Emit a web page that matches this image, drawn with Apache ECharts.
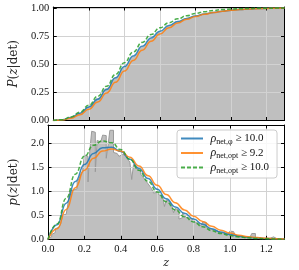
<!DOCTYPE html>
<html>
<head>
<meta charset="utf-8">
<script src="https://cdn.jsdelivr.net/npm/echarts@6/dist/echarts.min.js"></script>
<style>html,body{margin:0;padding:0;background:#fff;}#c{width:299px;height:270px;}</style>
</head>
<body>
<div id="c"></div>
<script>
// ---- data ----
const zGrid = [0,0.05,0.1,0.15,0.2,0.25,0.3,0.35,0.4,0.45,0.5,0.55,0.6,0.65,0.7,0.75,0.8,0.85,0.9,0.95,1.0,1.05,1.1,1.15,1.2,1.25,1.3];

const cdfEmpirical = [0,0.006,0.028,0.068,0.125,0.2,0.29,0.385,0.48,0.57,0.655,0.73,0.79,0.84,0.88,0.91,0.932,0.95,0.964,0.975,0.984,0.99,0.994,0.997,0.999,1.0,1.0];
const cdfPhi10 = [0,0.006,0.027,0.065,0.12,0.19,0.275,0.38,0.48,0.575,0.66,0.735,0.795,0.845,0.88,0.908,0.93,0.948,0.962,0.973,0.982,0.988,0.993,0.996,0.998,0.999,1.0];
const cdfOpt92 = [0,0.004,0.02,0.052,0.1,0.165,0.245,0.34,0.44,0.535,0.625,0.705,0.77,0.825,0.868,0.9,0.925,0.945,0.96,0.972,0.981,0.987,0.992,0.995,0.997,0.999,1.0];
const cdfOpt10 = [0,0.007,0.032,0.075,0.135,0.215,0.305,0.41,0.515,0.61,0.695,0.765,0.825,0.87,0.905,0.932,0.953,0.968,0.979,0.987,0.992,0.995,0.997,0.998,0.999,1.0,1.0];

const pdfPhi10 = [0,0.3,0.75,1.2,1.55,1.78,1.9,1.91,1.82,1.66,1.47,1.26,1.04,0.84,0.67,0.54,0.42,0.31,0.22,0.15,0.1,0.065,0.04,0.025,0.015,0.008,0.004];
const pdfOpt92 = [0,0.22,0.62,1.07,1.43,1.68,1.83,1.87,1.83,1.7,1.52,1.32,1.12,0.93,0.76,0.61,0.48,0.37,0.27,0.19,0.13,0.085,0.055,0.035,0.02,0.012,0.006];
const pdfOpt10 = [0,0.32,0.85,1.35,1.72,1.95,2.04,2.0,1.86,1.66,1.43,1.2,0.98,0.78,0.61,0.47,0.36,0.26,0.18,0.12,0.08,0.05,0.03,0.018,0.01,0.005,0.002];

const histBinWidth = 0.01;
const histDensity = [
 0.02,0.05,0.10,0.14,0.22,0.25,0.28,0.32,0.50,0.52,
 0.55,0.75,1.00,1.02,0.98,1.05,1.20,1.25,1.35,1.42,
 1.75,1.72,1.19,1.85,2.24,2.22,1.40,2.05,2.02,2.06,
 2.16,2.15,1.68,1.95,2.26,2.26,1.80,1.78,1.80,1.72,
 1.76,1.78,1.74,1.70,1.65,1.60,1.24,1.55,1.50,1.45,
 1.42,1.35,1.30,1.25,1.20,1.15,1.10,1.05,0.96,0.97,
 0.94,0.92,0.90,0.88,0.68,0.82,0.78,0.74,0.70,0.55,
 0.64,0.60,0.42,0.45,0.55,0.50,0.45,0.44,0.42,0.40,
 0.38,0.35,0.33,0.30,0.28,0.36,0.35,0.25,0.22,0.21,
 0.20,0.18,0.17,0.15,0.14,0.13,0.12,0.11,0.10,0.09,
 0.17,0.16,0.17,0.08,0.07,0.06,0.06,0.05,0.05,0.04,
 0.04,0.04,0.12,0.12,0.03,0.03,0.02,0.02,0.02,0.02,
 0.02,0.02,0.01,0.05,0.05,0.01,0.04,0.01,0.00,0.00
];

const seriesNames = ['phi10','opt92','opt10'];
const legendLabels = {
  phi10: '{r|ρ}{s|net,φ}{t| ≥ 10.0}',
  opt92: '{r|ρ}{s|net,opt}{t| ≥ 9.2}',
  opt10: '{r|ρ}{s|net,opt}{t| ≥ 10.0}'
};
const colors = {phi10:'#1f77b4', opt92:'#ff7f0e', opt10:'#2ca02c'};
const dashes = {phi10:'solid', opt92:'solid', opt10:[4,2]};

// ---- build ----
const pairs = (ys) => zGrid.map((z,i)=>[z, ys[i]]);
const histData = histDensity.map((v,i)=>[+(i*histBinWidth).toFixed(2), v]);
histData.push([+(histDensity.length*histBinWidth).toFixed(2), 0]);

const FONT = '"Liberation Serif", "DejaVu Serif", serif';
const NAMEFONT = '"DejaVu Serif", serif';
const gridLineColor = '#d2d2d2';

function xAx(gi, pos, labels){
  return {
    type:'value', gridIndex:gi, position:pos, min:0, max:1.3, interval:0.2, z:1,
    axisLine:{show:true, onZero:false, lineStyle:{color:'#000', width:1}},
    axisTick:{show:true, inside:true, length:3.5, lineStyle:{color:'#000'}},
    axisLabel:{show:labels, showMaxLabel:false, margin:4, color:'#111', fontFamily:FONT, fontSize:10.5,
      formatter:(v)=>v.toFixed(1)},
    splitLine:{show:pos==='bottom', lineStyle:{color:gridLineColor, width:1}},
    name: labels ? 'z' : '', nameLocation:'middle', nameGap:18,
    nameTextStyle:{fontFamily:NAMEFONT, fontStyle:'italic', fontSize:11, color:'#111'}
  };
}
function yAx(gi, pos, max, interval, digits, name){
  return {
    type:'value', gridIndex:gi, position:pos, min:0, max:max, interval:interval, z:1,
    axisLine:{show:true, onZero:false, lineStyle:{color:'#000', width:1}},
    axisTick:{show:true, inside:true, length:3.5, lineStyle:{color:'#000'}},
    axisLabel:{show:pos==='left', showMaxLabel:false, margin:4, color:'#111', fontFamily:FONT, fontSize:10.5,
      formatter:(v)=>v.toFixed(digits)},
    splitLine:{show:pos==='left', lineStyle:{color:gridLineColor, width:1}},
    name: pos==='left' ? name : '', nameLocation:'middle', nameGap:23, nameRotate:90,
    nameTextStyle:{fontFamily:NAMEFONT, fontSize:12, color:'#222',
      rich:{i:{fontFamily:NAMEFONT, fontStyle:'italic', fontSize:12, color:'#222'},
            n:{fontFamily:NAMEFONT, fontSize:12, color:'#222'}}}
  };
}

const series = [];
series.push({
  type:'line', xAxisIndex:0, yAxisIndex:0, data:pairs(cdfEmpirical), smooth:true, smoothMonotone:'x',
  symbol:'none', lineStyle:{width:0}, areaStyle:{color:'#bfbfbf', opacity:1}, z:0, silent:true
});
const cdfs = {phi10:cdfPhi10, opt92:cdfOpt92, opt10:cdfOpt10};
const pdfs = {phi10:pdfPhi10, opt92:pdfOpt92, opt10:pdfOpt10};
series.push({
  type:'line', xAxisIndex:2, yAxisIndex:2, data:histData, step:'end', symbol:'none',
  lineStyle:{color:'#9a9a9a', width:1}, areaStyle:{color:'#bfbfbf', opacity:1}, z:0, silent:true
});
seriesNames.forEach(n=>{
  series.push({
    name:n, type:'line', xAxisIndex:0, yAxisIndex:0, data:pairs(cdfs[n]), smooth:true, smoothMonotone:'x',
    symbol:'none', lineStyle:{color:colors[n], width:1.5, type:dashes[n], opacity:0.85}, itemStyle:{color:colors[n]}, z:3
  });
  series.push({
    name:n, type:'line', xAxisIndex:2, yAxisIndex:2, data:pairs(pdfs[n]), smooth:true, smoothMonotone:'x',
    symbol:'none', lineStyle:{color:colors[n], width:1.5, type:dashes[n], opacity:0.85}, itemStyle:{color:colors[n]}, z:3
  });
});

const chart = echarts.init(document.getElementById('c'), null, {renderer:'canvas'});
chart.setOption({
  animation:false,
  backgroundColor:'#fff',
  grid:[
    {left:45, width:239.5, top:7, height:113.5},
    {left:45, width:239.5, top:125, height:114.3}
  ],
  xAxis:[ xAx(0,'bottom',false), xAx(0,'top',false), xAx(1,'bottom',true), xAx(1,'top',false) ],
  yAxis:[
    yAx(0,'left',1.01,0.25,2,'{i|P}{n|(}{i|z}{n||det)}'), yAx(0,'right',1.01,0.25,2,''),
    yAx(1,'left',2.37,0.5,1,'{i|p}{n|(}{i|z}{n||det)}'), yAx(1,'right',2.37,0.5,1,'')
  ],
  legend:{
    data:seriesNames, orient:'vertical', left:177, top:130,
    itemWidth:22, itemHeight:10, itemGap:0.5,
    padding:[1.5,8,3.5,3],
    itemStyle:{opacity:0},
    backgroundColor:'rgba(255,255,255,0.85)', borderColor:'#cccccc', borderWidth:1, borderRadius:3,
    formatter:(n)=>legendLabels[n],
    textStyle:{fontFamily:FONT, fontSize:11, color:'#111', lineHeight:14,
      rich:{
        r:{fontFamily:FONT, fontStyle:'italic', fontSize:12, color:'#111', lineHeight:14, padding:[0,0,0,2.5]},
        s:{fontFamily:FONT, fontSize:8, color:'#111', verticalAlign:'bottom', lineHeight:10},
        t:{fontFamily:FONT, fontSize:11, color:'#111', lineHeight:14}
      }},
    selectedMode:false
  },
  series:series
});
</script>
</body>
</html>
